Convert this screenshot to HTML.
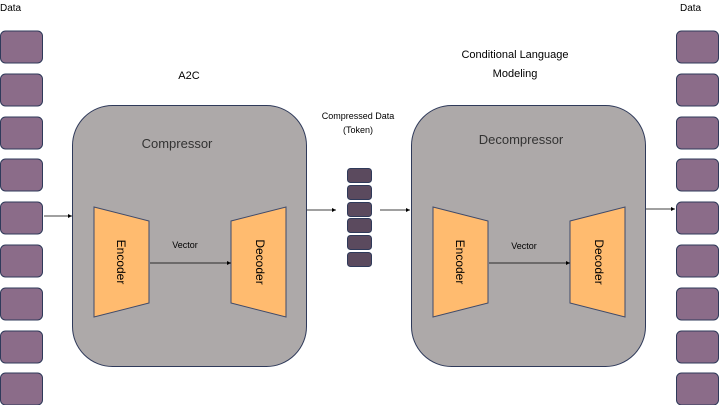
<!DOCTYPE html>
<html><head><style>body{margin:0;background:#fff}</style></head><body>
<svg width="720" height="405" viewBox="0 0 720 405" xmlns="http://www.w3.org/2000/svg" font-family="Liberation Sans, sans-serif">
<defs><marker id="a" markerWidth="6" markerHeight="6" refX="5" refY="3" orient="auto"><path d="M0,0.5 L5,3 L0,5.5z" fill="#000"/></marker></defs>
<g fill="#8B6C89" stroke="#2F3A5A" stroke-width="1">
<rect x="0.5" y="31" width="42" height="32" rx="5"/><rect x="0.5" y="74" width="42" height="32" rx="5"/><rect x="0.5" y="117" width="42" height="32" rx="5"/><rect x="0.5" y="159" width="42" height="32" rx="5"/><rect x="0.5" y="202" width="42" height="32" rx="5"/><rect x="0.5" y="245" width="42" height="32" rx="5"/><rect x="0.5" y="288" width="42" height="32" rx="5"/><rect x="0.5" y="331" width="42" height="32" rx="5"/><rect x="0.5" y="373" width="42" height="32" rx="5"/>
<rect x="676.5" y="31" width="42" height="32" rx="5"/><rect x="676.5" y="74" width="42" height="32" rx="5"/><rect x="676.5" y="117" width="42" height="32" rx="5"/><rect x="676.5" y="159" width="42" height="32" rx="5"/><rect x="676.5" y="202" width="42" height="32" rx="5"/><rect x="676.5" y="245" width="42" height="32" rx="5"/><rect x="676.5" y="288" width="42" height="32" rx="5"/><rect x="676.5" y="331" width="42" height="32" rx="5"/><rect x="676.5" y="373" width="42" height="32" rx="5"/>
</g>
<g fill="#ADA9A9" stroke="#2F3A5A" stroke-width="1">
<rect x="72.5" y="105.5" width="234" height="261" rx="40"/>
<rect x="411.5" y="105.5" width="234" height="261" rx="40"/>
</g>
<g fill="#5B4A5E" stroke="#2F3A5A" stroke-width="1">
<rect x="347.5" y="168.5" width="24" height="14" rx="3"/><rect x="347.5" y="185.5" width="24" height="14" rx="3"/><rect x="347.5" y="202.5" width="24" height="14" rx="3"/><rect x="347.5" y="218.5" width="24" height="14" rx="3"/><rect x="347.5" y="235.5" width="24" height="14" rx="3"/><rect x="347.5" y="252.5" width="24" height="14" rx="3"/>
</g>
<g fill="#FFBB6F" stroke="#3F4A6A" stroke-width="1">
<polygon points="94,207 149,221 149,303 94,317"/>
<polygon points="231,221 286,207 286,317 231,303"/>
<polygon points="433,207 488,221 488,303 433,317"/>
<polygon points="570,221 625,207 625,317 570,303"/>
</g>
<g stroke="#000" stroke-width="0.8" marker-end="url(#a)">
<line x1="44" y1="216" x2="72" y2="216"/>
<line x1="150" y1="263" x2="231" y2="263"/>
<line x1="489" y1="263" x2="570" y2="263"/>
<line x1="307" y1="210" x2="336" y2="210"/>
<line x1="380" y1="210" x2="410" y2="210"/>
<line x1="646" y1="209" x2="675" y2="209"/>
</g>
<g fill="#000" font-size="10">
<text x="0" y="11">Data</text>
<text x="680" y="11">Data</text>
<text x="189" y="79" text-anchor="middle" font-size="11">A2C</text>
<text x="515" y="58" text-anchor="middle" font-size="11">Conditional Language</text>
<text x="515" y="77" text-anchor="middle" font-size="11">Modeling</text>
<text x="358" y="119" text-anchor="middle" font-size="9">Compressed Data</text>
<text x="358" y="133" text-anchor="middle" font-size="9">(Token)</text>
<text x="185" y="248" text-anchor="middle" font-size="9">Vector</text>
<text x="524" y="249" text-anchor="middle" font-size="9">Vector</text>
</g>
<g fill="#333" font-size="13">
<text x="177" y="148" text-anchor="middle">Compressor</text>
<text x="521" y="144" text-anchor="middle">Decompressor</text>
</g>
<g fill="#000" font-size="12" text-anchor="middle">
<text transform="translate(117,262) rotate(90)">Encoder</text>
<text transform="translate(256,262) rotate(90)">Decoder</text>
<text transform="translate(456,262) rotate(90)">Encoder</text>
<text transform="translate(595,262) rotate(90)">Decoder</text>
</g>
</svg>
</body></html>
